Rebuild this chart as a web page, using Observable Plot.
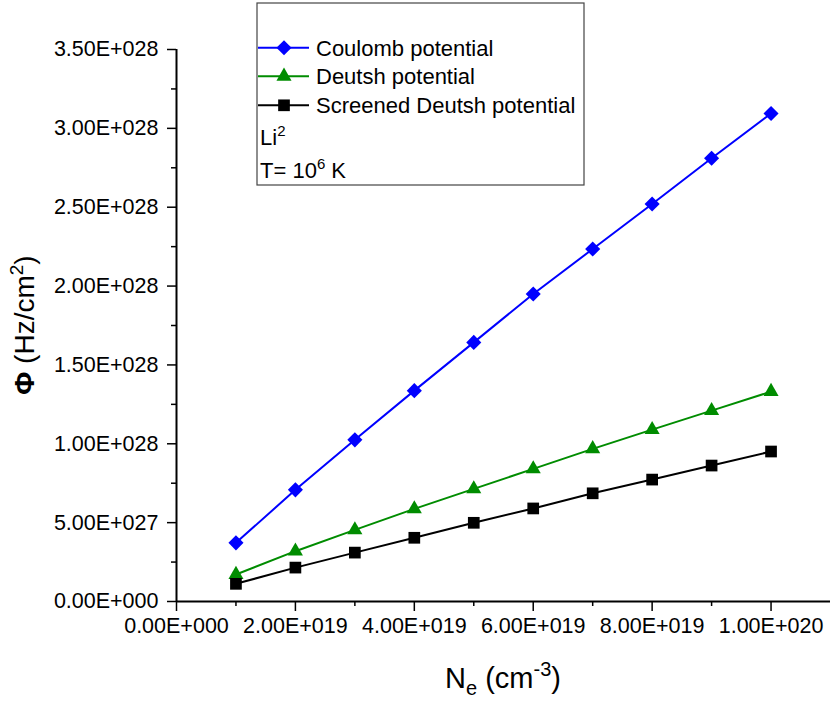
<!DOCTYPE html>
<html><head><meta charset="utf-8">
<script src="https://cdn.jsdelivr.net/npm/d3@7"></script>
<script src="https://cdn.jsdelivr.net/npm/@observablehq/plot@0.6"></script>
<style>
body{margin:0;background:#fff}
#wrap{width:830px;height:702px}
</style>
</head><body><div id="wrap"></div>
<script>
// Data (Ne in cm^-3, Phi in Hz/cm^2)
const ne = [1e19, 2e19, 3e19, 4e19, 5e19, 6e19, 7e19, 8e19, 9e19, 1e20];
const coulomb = [3.72e27, 7.08e27, 1.025e28, 1.337e28, 1.643e28, 1.95e28, 2.235e28, 2.52e28, 2.81e28, 3.094e28];
const deutsh = [1.71e27, 3.19e27, 4.54e27, 5.87e27, 7.14e27, 8.41e27, 9.68e27, 1.09e28, 1.21e28, 1.331e28];
const screened = [1.12e27, 2.15e27, 3.10e27, 4.04e27, 4.99e27, 5.90e27, 6.86e27, 7.73e27, 8.62e27, 9.51e27];
const seriesNames = ["Coulomb potential", "Deutsh potential", "Screened Deutsh potential"];
const seriesColors = ["#0000ff", "#008c00", "#000000"];
const seriesSymbols = ["diamond2", "triangle", "square"];
const xMajor = [0, 2e19, 4e19, 6e19, 8e19, 1e20];
const xMinor = [1e19, 3e19, 5e19, 7e19, 9e19];
const yMajor = [0, 5e27, 1e28, 1.5e28, 2e28, 2.5e28, 3e28, 3.5e28];
const yMinor = [2.5e27, 7.5e27, 1.25e28, 1.75e28, 2.25e28, 2.75e28, 3.25e28];

function sci(v) {
  if (v === 0) return "0.00E+000";
  let e = Math.floor(Math.log10(Math.abs(v)));
  let m = v / Math.pow(10, e);
  if (Math.abs(m) >= 9.995) { m /= 10; e += 1; }
  return m.toFixed(2) + "E" + (e < 0 ? "-" : "+") + String(Math.abs(e)).padStart(3, "0");
}

const rows = ne.map((x, i) => ({x, c: coulomb[i], d: deutsh[i], s: screened[i]}));
const keys = ["c", "d", "s"];
const radii = [6.8, 5.6, 6.6];

const font = "'Liberation Sans', Arial, Helvetica, sans-serif";
const marks = [
  Plot.axisX({ticks: xMinor, tickSize: 5, tickFormat: () => "", label: null, strokeWidth: 1.5}),
  Plot.axisX({ticks: xMajor, tickSize: 10, tickPadding: 6, tickFormat: sci, label: null, strokeWidth: 1.5}),
  Plot.axisY({ticks: yMinor, tickSize: 5, tickFormat: () => "", label: null, strokeWidth: 1.5}),
  Plot.axisY({ticks: yMajor, tickSize: 9, tickPadding: 9, tickFormat: sci, label: null, strokeWidth: 1.5}),
  Plot.ruleY([0], {strokeWidth: 2}),
  Plot.ruleX([0], {strokeWidth: 2})
];
keys.forEach((k, i) => {
  marks.push(Plot.line(rows, {x: "x", y: k, stroke: seriesColors[i], strokeWidth: 2}));
});
keys.forEach((k, i) => {
  marks.push(Plot.dot(rows, {x: "x", y: k, symbol: seriesSymbols[i], r: radii[i], fill: seriesColors[i], stroke: "none"}));
});

const chart = Plot.plot({
  width: 830, height: 702,
  marginLeft: 176, marginRight: 0, marginTop: 49, marginBottom: 101,
  style: {fontFamily: font, fontSize: "21.5px", color: "#000", background: "#fff", overflow: "visible"},
  x: {domain: [0, 1.1e20]},
  y: {domain: [0, 3.5e28]},
  marks
});
document.getElementById("wrap").appendChild(chart);

const svg = d3.select(chart);
// Axis titles
const yt = svg.append("text")
  .attr("transform", "translate(34,325) rotate(-90)")
  .attr("text-anchor", "middle")
  .attr("font-family", font).attr("font-size", 28).attr("fill", "#000");
yt.append("tspan").attr("font-weight", "bold").text("Φ");
yt.append("tspan").text(" (Hz/cm");
yt.append("tspan").attr("font-size", 19).attr("dy", -11).text("2");
yt.append("tspan").attr("dy", 11).text(")");

const xt = svg.append("text")
  .attr("x", 503).attr("y", 688)
  .attr("text-anchor", "middle")
  .attr("font-family", font).attr("font-size", 29).attr("fill", "#000");
xt.append("tspan").text("N");
xt.append("tspan").attr("font-size", 20).attr("dy", 7).text("e");
xt.append("tspan").attr("dy", -7).text(" (cm");
xt.append("tspan").attr("font-size", 20).attr("dy", -12).text("-3");
xt.append("tspan").attr("dy", 12).text(")");

// Legend
const lg = svg.append("g").attr("font-family", font).attr("font-size", 22)
  .attr("fill", "#000").attr("text-anchor", "start");
lg.append("rect").attr("x", 257).attr("y", 3).attr("width", 327).attr("height", 182)
  .attr("fill", "#fff").attr("stroke", "#444").attr("stroke-width", 1.2);
const symMap = {diamond2: d3.symbolDiamond2, triangle: d3.symbolTriangle, square: d3.symbolSquare};
const rowY = [47.7, 76.3, 105.3];
seriesNames.forEach((name, i) => {
  const y = rowY[i];
  lg.append("line").attr("x1", 258).attr("x2", 309).attr("y1", y).attr("y2", y)
    .attr("stroke", seriesColors[i]).attr("stroke-width", 2);
  lg.append("path").attr("transform", `translate(284,${y})`)
    .attr("d", d3.symbol(symMap[seriesSymbols[i]], Math.PI * radii[i] * radii[i])())
    .attr("fill", seriesColors[i]);
  lg.append("text").attr("x", 316).attr("y", y).attr("dy", "0.36em").text(name);
});
const li = lg.append("text").attr("x", 260).attr("y", 137).attr("dy", "0.36em");
li.append("tspan").text("Li");
li.append("tspan").attr("font-size", 15).attr("dy", -9).text("2");
const tt = lg.append("text").attr("x", 260).attr("y", 170).attr("dy", "0.36em");
tt.append("tspan").text("T= 10");
tt.append("tspan").attr("font-size", 15).attr("dy", -9).text("6");
tt.append("tspan").attr("dy", 9).text(" K");
</script>
</body></html>
